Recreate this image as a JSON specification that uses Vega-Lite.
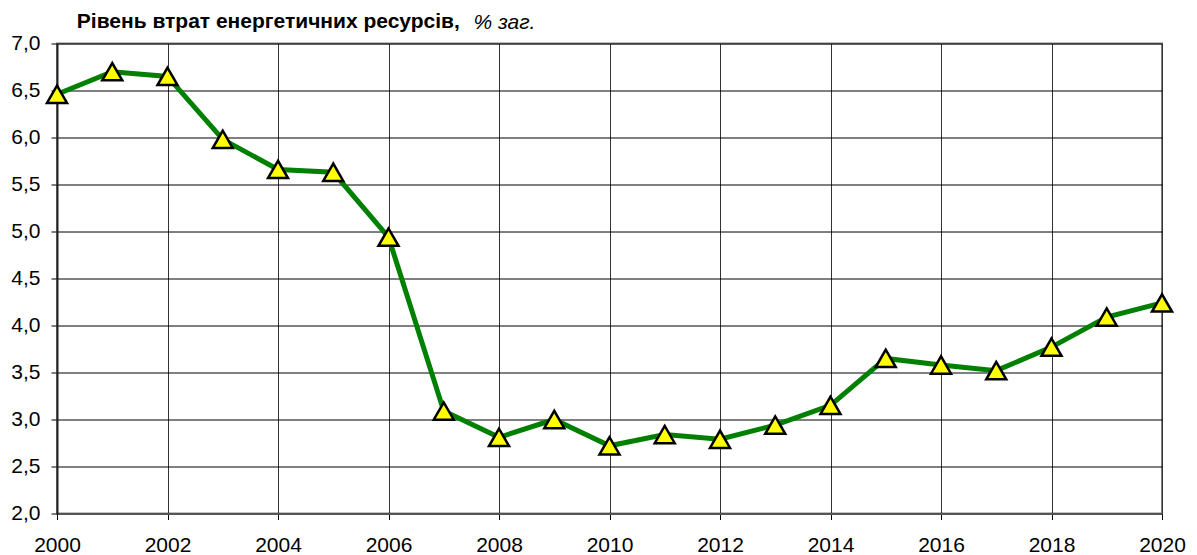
{
  "$schema": "https://vega.github.io/schema/vega-lite/v6.json",
  "autosize": "none",
  "width": 1105,
  "height": 470,
  "padding": {"left": 57, "top": 43.5, "right": 35, "bottom": 41.5},
  "background": "white",
  "config": {
    "font": "Liberation Sans",
    "view": {"stroke": "#808080", "strokeWidth": 2}
  },
  "title": {
    "text": "Рівень втрат енергетичних ресурсів,",
    "anchor": "start",
    "frame": "bounds",
    "baseline": "alphabetic",
    "fontSize": 21,
    "fontWeight": "bold",
    "color": "black",
    "offset": -37.5,
    "dx": 66
  },
  "data": {
    "values": [
      {"year": 2000, "value": 6.46},
      {"year": 2001, "value": 6.70},
      {"year": 2002, "value": 6.65},
      {"year": 2003, "value": 5.98},
      {"year": 2004, "value": 5.66},
      {"year": 2005, "value": 5.63},
      {"year": 2006, "value": 4.94},
      {"year": 2007, "value": 3.09},
      {"year": 2008, "value": 2.81},
      {"year": 2009, "value": 3.00},
      {"year": 2010, "value": 2.72},
      {"year": 2011, "value": 2.84},
      {"year": 2012, "value": 2.79},
      {"year": 2013, "value": 2.94},
      {"year": 2014, "value": 3.15},
      {"year": 2015, "value": 3.65},
      {"year": 2016, "value": 3.58},
      {"year": 2017, "value": 3.52},
      {"year": 2018, "value": 3.77},
      {"year": 2019, "value": 4.09},
      {"year": 2020, "value": 4.24}
    ]
  },
  "encoding": {
    "x": {
      "field": "year",
      "type": "quantitative",
      "scale": {"domain": [2000, 2020], "nice": false, "zero": false},
      "axis": {
        "title": null,
        "values": [2000, 2002, 2004, 2006, 2008, 2010, 2012, 2014, 2016, 2018, 2020],
        "format": "d",
        "labelFont": "Liberation Sans",
        "labelFontSize": 21,
        "labelColor": "black",
        "labelPadding": 15,
        "labelFlush": false,
        "tickSize": 6,
        "tickColor": "black",
        "domainColor": "#555555",
        "domainWidth": 2,
        "grid": true,
        "gridColor": "#333333",
        "gridWidth": 1
      }
    },
    "y": {
      "field": "value",
      "type": "quantitative",
      "scale": {"domain": [2, 7], "nice": false, "zero": false},
      "axis": {
        "title": "% заг.",
        "titleAngle": 0,
        "titleAlign": "left",
        "titleBaseline": "alphabetic",
        "titleX": 416,
        "titleY": -15.5,
        "titleFontSize": 21,
        "titleFontStyle": "italic",
        "titleFontWeight": "normal",
        "titleColor": "black",
        "values": [2, 2.5, 3, 3.5, 4, 4.5, 5, 5.5, 6, 6.5, 7],
        "labelExpr": "replace(format(datum.value, '.1f'), '.', ',')",
        "labelFont": "Liberation Sans",
        "labelFontSize": 21,
        "labelColor": "black",
        "labelPadding": 11,
        "labelFlush": false,
        "tickSize": 6,
        "tickColor": "black",
        "domainColor": "#222222",
        "domainWidth": 2,
        "grid": true,
        "gridColor": "black",
        "gridWidth": 1
      }
    }
  },
  "layer": [
    {
      "mark": {"type": "line", "color": "#008000", "strokeWidth": 5}
    },
    {
      "mark": {
        "type": "point",
        "shape": "triangle-up",
        "filled": true,
        "fill": "#FFFF00",
        "stroke": "black",
        "strokeWidth": 2.5,
        "size": 400,
        "opacity": 1
      }
    }
  ]
}
